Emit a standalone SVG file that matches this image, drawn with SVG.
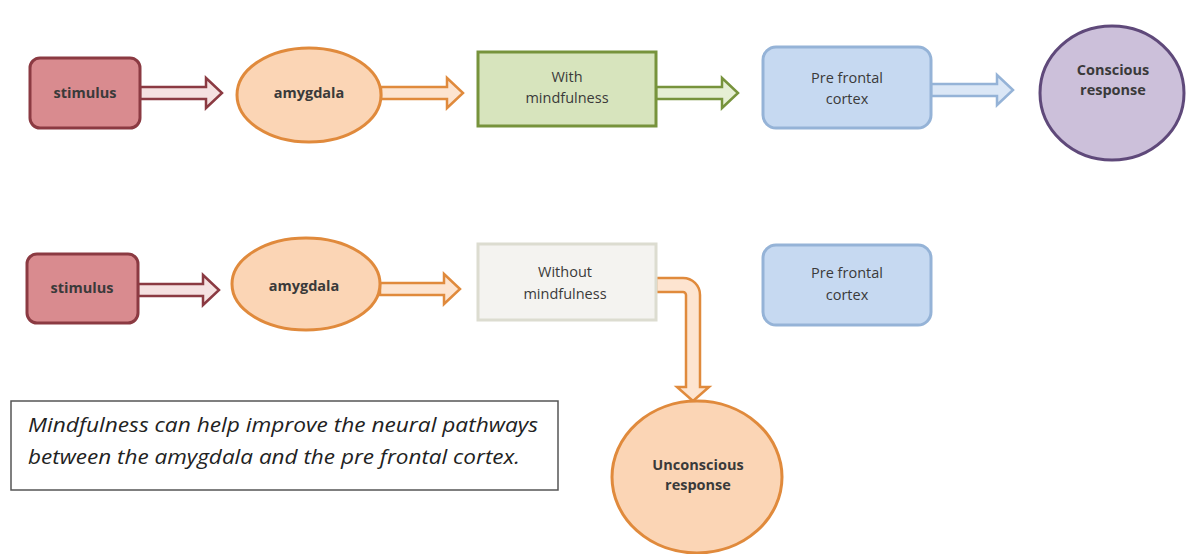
<svg xmlns="http://www.w3.org/2000/svg" width="1187" height="554" viewBox="0 0 1187 554">
<style>
.lbl{font-family:"Open Sans",Lato,sans-serif;font-size:14.5px;fill:#3a3a3a;text-anchor:middle}
.b{font-weight:bold}
.red{fill:#d98b8f;stroke:#8b3a42;stroke-width:3}
.ora{fill:#fbd5b5;stroke:#e08a3c;stroke-width:3}
.grn{fill:#d7e4bd;stroke:#77933c;stroke-width:3}
.blu{fill:#c6d9f1;stroke:#95b3d7;stroke-width:3}
.pur{fill:#ccc0da;stroke:#5f497a;stroke-width:3}
.ared{fill:#f5e1e1;stroke:#8b3a42;stroke-width:2.5}
.aora{fill:#fde4d0;stroke:#e08a3c;stroke-width:2.5}
.agrn{fill:#e6efd4;stroke:#77933c;stroke-width:2.5}
.ablu{fill:#dbe7f6;stroke:#95b3d7;stroke-width:2.5}
.note{font-family:"Open Sans",Lato,sans-serif;font-style:italic;font-size:20px;fill:#222}
</style>
<rect width="1187" height="554" fill="#ffffff"/>
<g id="connectors">
<path class="ared" d="M140,87H206V78L222,93L206,108V99H140Z"/>
<path class="aora" d="M381,87H447V78L463,93L447,108V99H381Z"/>
<path class="agrn" d="M656,87H722V78L738,93L722,108V99H656Z"/>
<path class="ablu" d="M931,84H997V75L1013,90L997,105V96H931Z"/>
<path class="ared" d="M138,284H203V275L219,290L203,305V296H138Z"/>
<path class="aora" d="M380,283H444V274L460,289L444,304V295H380Z"/>
<path class="aora" d="M656,278H683A17,17 0 0 1 700,295V387H709L693,401L677,387H686V295A3,3 0 0 0 683,292H656Z"/>
</g>
<g id="stimulus1"><rect class="red" x="30" y="58" width="110" height="70" rx="10"/><text class="lbl b" x="85" y="98">stimulus</text></g>
<g id="amygdala1"><ellipse class="ora" cx="309" cy="95" rx="72" ry="47"/><text class="lbl b" x="309" y="98">amygdala</text></g>
<g id="with"><rect class="grn" x="478" y="52" width="178" height="74"/><text class="lbl" x="567" y="82">With</text><text class="lbl" x="567" y="103">mindfulness</text></g>
<g id="pfc1"><rect class="blu" x="763" y="47" width="168" height="81" rx="13"/><text class="lbl" x="847" y="83">Pre frontal</text><text class="lbl" x="847" y="104">cortex</text></g>
<g id="conscious"><ellipse class="pur" cx="1112" cy="93" rx="72" ry="67"/><text class="lbl b" x="1113" y="75">Conscious</text><text class="lbl b" x="1113" y="95">response</text></g>
<g id="stimulus2"><rect class="red" x="27" y="254" width="111" height="69" rx="10"/><text class="lbl b" x="82" y="293">stimulus</text></g>
<g id="amygdala2"><ellipse class="ora" cx="306" cy="284" rx="74" ry="46"/><text class="lbl b" x="304" y="291">amygdala</text></g>
<g id="without"><rect x="478" y="244" width="178" height="76" fill="#f4f3f0" stroke="#dcdcd0" stroke-width="3"/><text class="lbl" x="565" y="277">Without</text><text class="lbl" x="565" y="299">mindfulness</text></g>
<g id="pfc2"><rect class="blu" x="763" y="245" width="168" height="80" rx="13"/><text class="lbl" x="847" y="278">Pre frontal</text><text class="lbl" x="847" y="300">cortex</text></g>
<g id="unconscious"><ellipse class="ora" cx="697" cy="477" rx="85" ry="76"/><text class="lbl b" x="698" y="470">Unconscious</text><text class="lbl b" x="698" y="490">response</text></g>
<g id="note"><rect x="11" y="401" width="547" height="89" fill="#fff" stroke="#555" stroke-width="1.5"/><text class="note" x="28" y="432" textLength="510" lengthAdjust="spacingAndGlyphs">Mindfulness can help improve the neural pathways</text><text class="note" x="28" y="464" textLength="492" lengthAdjust="spacingAndGlyphs">between the amygdala and the pre frontal cortex.</text></g>
</svg>
